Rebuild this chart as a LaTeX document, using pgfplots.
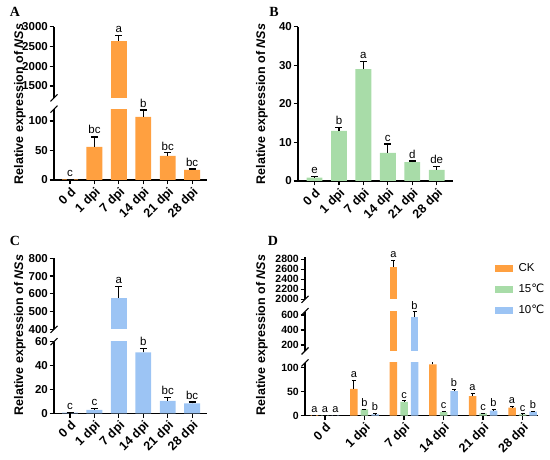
\documentclass[border=0pt]{standalone}
\usepackage{fontspec}
\setmainfont{Liberation Sans}
\newfontfamily\serifb{Liberation Serif}
\newfontfamily\dejavu{DejaVu Sans}
\usepackage{pgfplots}
\usepackage{pgfplotstable}
\pgfplotsset{compat=1.18}
\definecolor{cko}{HTML}{FFA040}
\definecolor{gr}{HTML}{A8DCA8}
\definecolor{bl}{HTML}{9CC4F4}

\pgfplotstableread{
x y e
0 1 0.4
1 56 17
2 2650 130
3 107 11.5
4 41 5
5 17 1.5
}\dataA
\pgfplotstableread{
x y e
0 0.9 0.2
1 13.0 0.8
2 29.0 1.9
3 7.3 2.3
4 4.9 0.3
5 2.9 0.8
}\dataB
\pgfplotstableread{
x y e
0 0.5 0.1
1 2.8 1.5
2 578 62
3 51 3.4
4 10.5 2.5
5 8.4 1.1
}\dataC

\pgfplotsset{
  base/.style={
    scale only axis,
    anchor=south west,
    axis line style={-, line width=1.3pt, black},
    tick style={line width=1.2pt, black},
    major tick length=4.5pt,
    tick align=outside,
    scaled y ticks=false,
    /pgf/number format/1000 sep={},
    /pgf/number format/assume math mode=true,
    yticklabel style={font=\fontsize{11.5}{12}\selectfont\bfseries, inner sep=1.5pt},
    xticklabel style={font=\fontsize{12.5}{13}\selectfont\bfseries, rotate=45, anchor=north east, inner sep=1pt},
    nodes near coords style={font=\fontsize{11.5}{12}\selectfont, anchor=south, inner sep=2.5pt, text=black},
  },
  lowerax/.style={base, axis y line*=left, axis x line*=bottom, xtick={0,...,5},
    xticklabels={0 d,1 dpi,7 dpi,14 dpi,21 dpi,28 dpi}},
  upperax/.style={base, axis y line*=left, hide x axis, xtick=\empty},
  barS/.style={ybar, fill=#1, draw=none, bar width=0.65, bar shift=0pt,
    error bars/y dir=plus, error bars/y explicit, error bars/error mark=-,
    error bars/error bar style={line width=1.2pt, black},
    error bars/error mark options={rotate=90, line width=1.2pt, black, mark size=3.5pt}},
  barD/.style={ybar, fill=#1, draw=none, bar width=7.5pt, bar shift=0pt,
    error bars/y dir=plus, error bars/y explicit, error bars/error mark=-,
    error bars/error bar style={line width=1pt, black},
    error bars/error mark options={rotate=90, line width=1pt, black, mark size=2pt}},
  lab/.style={draw=none, mark=none, nodes near coords, point meta=explicit symbolic},
}
\newcommand{\brk}[2]{\draw[line width=1.1pt] (#1pt-3.5pt,#2pt-3.5pt) -- (#1pt+3.5pt,#2pt+3.5pt);}

\begin{document}
\begin{tikzpicture}
\path[use as bounding box] (0,0) rectangle (550pt,460pt);

% ---------------- Panel A ----------------
\begin{axis}[lowerax, at={(54pt,280pt)}, width=153pt, height=70.8pt,
  xmin=-0.656, xmax=5.61, ymin=0, ymax=120, ytick={0,50,100}]
\addplot[barS=cko] table[x=x,y=y,y error=e]{\dataA};
\addplot[lab] coordinates {(0,1.4)[c] (1,73.4)[bc] (3,118.6)[b] (4,46)[bc] (5,18.6)[bc]};
\end{axis}
\begin{axis}[upperax, at={(54pt,362.1pt)}, width=153pt, height=71.2pt,
  xmin=-0.656, xmax=5.61, ymin=1200, ymax=3000, ytick={1500,2000,2500,3000}]
\addplot[barS=cko, restrict y to domain=1200:100000] table[x=x,y=y,y error=e]{\dataA};
\addplot[lab] coordinates {(2,2780)[a]};
\end{axis}
\brk{54}{350.8}
\brk{54}{362.1}

% ---------------- Panel B ----------------
\begin{axis}[lowerax, at={(298pt,279pt)}, width=155pt, height=154.3pt,
  xmin=-0.675, xmax=5.665, ymin=0, ymax=40, ytick={0,10,20,30,40}]
\addplot[barS=gr] table[x=x,y=y,y error=e]{\dataB};
\addplot[lab] coordinates {(0,1.1)[e] (1,13.8)[b] (2,30.9)[a] (3,9.6)[c] (4,5.2)[d] (5,3.7)[de]};
\end{axis}

% ---------------- Panel C ----------------
\begin{axis}[lowerax, at={(54pt,46.7pt)}, width=153pt, height=71.6pt,
  xmin=-0.656, xmax=5.61, ymin=0, ymax=60, ytick={0,20,40,60}]
\addplot[barS=bl] table[x=x,y=y,y error=e]{\dataC};
\addplot[lab] coordinates {(0,0.6)[c] (1,4.3)[c] (3,54.4)[b] (4,13)[bc] (5,9.5)[bc]};
\end{axis}
\begin{axis}[upperax, at={(54pt,130.7pt)}, width=153pt, height=71pt,
  xmin=-0.656, xmax=5.61, ymin=400, ymax=800, ytick={400,500,600,700,800}]
\addplot[barS=bl, restrict y to domain=400:100000] table[x=x,y=y,y error=e]{\dataC};
\addplot[lab] coordinates {(2,640)[a]};
\end{axis}
\brk{54}{118.3}
\brk{54}{130.7}

% ---------------- Panel D ----------------
\pgfplotsset{dD/.style={xmin=-0.506, xmax=5.392, width=233pt,
  yticklabel style={font=\fontsize{10.5}{11}\selectfont\bfseries},
  nodes near coords style={font=\fontsize{11}{12}\selectfont}}}
\begin{axis}[lowerax, dD, at={(305pt,44.3pt)}, height=52.8pt, ymin=0, ymax=110, ytick={0,50,100}]
\addplot[barD=cko] table[x expr=\thisrow{x}-0.266,y=y,y error=e]{\dataA};
\addplot[barD=gr] table[x=x,y=y,y error=e]{\dataB};
\addplot[barD=bl] table[x expr=\thisrow{x}+0.266,y=y,y error=e]{\dataC};
\addplot[lab] coordinates {(-0.266,1.4)[a] (0.734,73.4)[a] (2.734,112)[a] (3.734,46)[a] (4.734,18.6)[a]
  (0,1.1)[a] (1,13.8)[b] (2,30.9)[c] (3,9.6)[c] (4,5.2)[c] (5,3.7)[c]
  (0.266,0.6)[a] (1.266,4.3)[b] (3.266,54.4)[b] (4.266,13)[b] (5.266,9.5)[b]};
\end{axis}
\begin{axis}[upperax, dD, at={(305pt,109pt)}, height=39.4pt, ymin=120, ymax=645, ytick={200,400,600}]
\addplot[barD=cko, restrict y to domain=120:100000] table[x expr=\thisrow{x}-0.266,y=y,y error=e]{\dataA};
\addplot[barD=bl, restrict y to domain=120:100000] table[x expr=\thisrow{x}+0.266,y=y,y error=e]{\dataC};
\addplot[lab] coordinates {(2.266,640)[b]};
\end{axis}
\begin{axis}[upperax, dD, at={(305pt,160.7pt)}, height=42.5pt, ymin=2000, ymax=2850,
  ytick={2000,2200,2400,2600,2800},
  legend style={at={(0.813,0.9)}, anchor=north west, draw=none, fill=none, inner sep=0pt,
    row sep=7.5pt, font=\fontsize{11.5}{12}\selectfont,
    nodes={inner sep=1.5pt, text height=8.5pt, text depth=2pt},
    /tikz/every odd column/.append style={column sep=5pt}},
  legend cell align=left]
\addplot[barD=cko, restrict y to domain=2000:100000, forget plot] table[x expr=\thisrow{x}-0.266,y=y,y error=e]{\dataA};
\addplot[lab, forget plot] coordinates {(1.734,2780)[a]};
\addlegendimage{legend image code/.code={\fill[cko] (0pt,-3pt) rectangle (17pt,3pt);}}
\addlegendentry{CK}
\addlegendimage{legend image code/.code={\fill[gr] (0pt,-3pt) rectangle (17pt,3pt);}}
\addlegendentry{15{\dejavu ℃}}
\addlegendimage{legend image code/.code={\fill[bl] (0pt,-3pt) rectangle (17pt,3pt);}}
\addlegendentry{10{\dejavu ℃}}
\end{axis}
\brk{305}{97.1}
\brk{305}{109}
\brk{305}{148.4}
\brk{305}{160.7}

% ---------------- labels ----------------
\foreach \px/\py in {20/356, 262/356, 20/125, 262/125}{
  \node[rotate=90, font=\fontsize{12.5}{13}\selectfont\bfseries] at (\px pt,\py pt) {Relative expression of \textit{NSs}};
}
\node[font=\serifb\bfseries\fontsize{14}{14}\selectfont] at (15pt,448pt) {A};
\node[font=\serifb\bfseries\fontsize{14}{14}\selectfont] at (274pt,448pt) {B};
\node[font=\serifb\bfseries\fontsize{14}{14}\selectfont] at (15pt,219pt) {C};
\node[font=\serifb\bfseries\fontsize{14}{14}\selectfont] at (273pt,219pt) {D};
\end{tikzpicture}
\end{document}
